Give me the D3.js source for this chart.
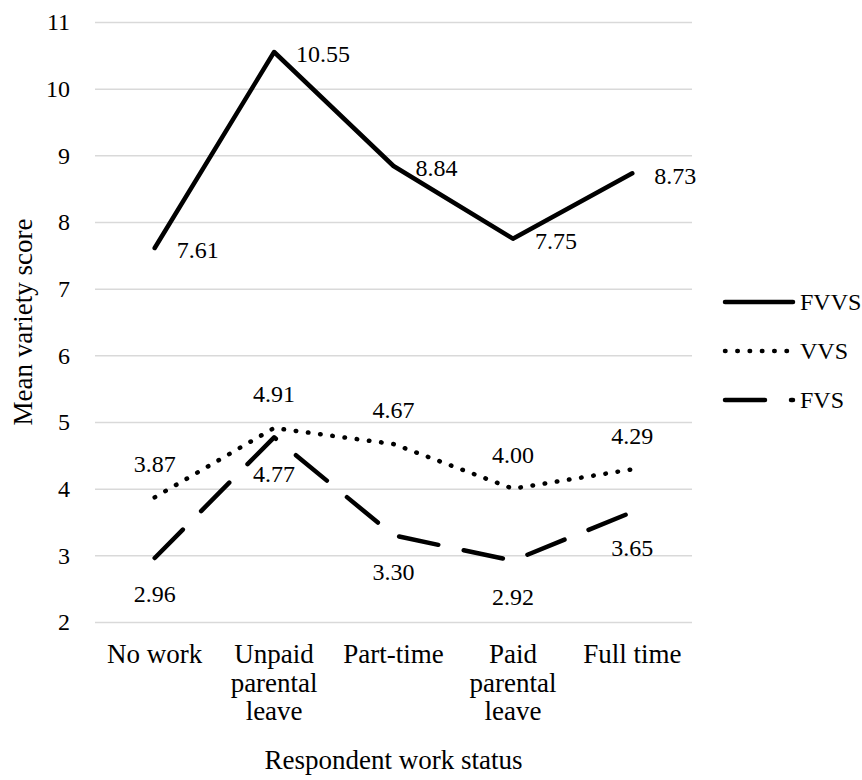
<html>
  <head>
    <style>
      body {
        margin:0;
        background:#fff;
        font-family:"Liberation Serif", "DejaVu Serif", serif;
      }
      .chart text {
        fill:#000;
        font-size:24px;
      }
      .chart text.word {
        font-size:27px;
      }
      .grid .domain {
        display:none;
      }
      .grid .tick line {
        stroke:#d9d9d9;
        stroke-width:1.5;
      }
      .xaxis .domain, .xaxis .tick line {
        display:none;
      }
      .series {
        fill:none;
        stroke:#000;
        stroke-width:4.5;
        stroke-linejoin:round;
        stroke-linecap:round;
      }
    </style>
  </head>
  <body>
    <div class="graph"></div>
    <script src="https://cdn.jsdelivr.net/npm/d3@7"></script>
    <script>
      var categories = ["No work", "Unpaid parental leave", "Part-time", "Paid parental leave", "Full time"];
      var tickLines = [["No work"], ["Unpaid", "parental", "leave"], ["Part-time"], ["Paid", "parental", "leave"], ["Full time"]];
      var seriesNames = ["FVVS", "VVS", "FVS"];
      var fvvs = [7.61, 10.55, 8.84, 7.75, 8.73];
      var vvs = [3.87, 4.91, 4.67, 4.00, 4.29];
      var fvs = [2.96, 4.77, 3.30, 2.92, 3.65];
      var yTicks = [2, 3, 4, 5, 6, 7, 8, 9, 10, 11];

      var width = 862;
      var height = 780;
      // note: "top" is taken by window.top, so prefix these
      var plotLeft = 95, plotRight = 692, plotTop = 22, plotBottom = 622;

      // dash style + label placement per series
      var styles = {
        FVVS:{dash:null, label:"right"},
        VVS:{dash:"0.5,11.8", label:"above"},
        FVS:{dash:"40,26", label:"below"}
      };
      var values = {FVVS:fvvs, VVS:vvs, FVS:fvs};

      var x = d3.scaleBand()
        .domain(categories)
        .range([plotLeft, plotRight]);
      var y = d3.scaleLinear()
        .domain([2, 11])
        .range([plotBottom, plotTop]);

      function cx(c) {
        return x(c) + x.bandwidth() / 2;
      }

      var svg = d3.select(".graph").append("svg")
        .attr("class", "chart")
        .attr("width", width)
        .attr("height", height);

      var grid = svg.append("g")
        .attr("class", "grid")
        .attr("transform", "translate(" + plotLeft + ",0)")
        .call(d3.axisLeft(y)
          .tickValues(yTicks)
          .tickSize(-(plotRight - plotLeft))
          .tickPadding(25)
          .tickFormat(d3.format("d")));
      grid.attr("font-family", null).attr("font-size", null);

      var xaxis = svg.append("g")
        .attr("class", "xaxis")
        .attr("transform", "translate(0," + plotBottom + ")")
        .call(d3.axisBottom(x).tickSize(0));
      xaxis.attr("font-family", null).attr("font-size", null);
      xaxis.selectAll(".tick text").each(function (d, i) {
        var t = d3.select(this).attr("class", "word").text(null).attr("y", 0).attr("dy", null);
        tickLines[i].forEach(function (s, j) {
          t.append("tspan")
            .attr("x", 0)
            .attr("y", 41 + j * 28.5)
            .text(s);
        });
      });

      var line = d3.line()
        .x(function (d, i) { return cx(categories[i]); })
        .y(function (d) { return y(d); });

      seriesNames.forEach(function (name) {
        var data = values[name];
        var st = styles[name];
        svg.append("path")
          .datum(data)
          .attr("class", "series")
          .attr("stroke-dasharray", st.dash)
          .attr("d", line);

        svg.append("g").selectAll("text")
          .data(data)
          .join("text")
          .attr("x", function (d, i) {
            return st.label == "right" ? cx(categories[i]) + 22 : cx(categories[i]);
          })
          .attr("y", function (d) {
            if (st.label == "above") return y(d) - 34;
            if (st.label == "below") return y(d) + 36;
            return y(d) + 2;
          })
          .attr("dy", "0.35em")
          .attr("text-anchor", st.label == "right" ? "start" : "middle")
          .text(function (d) { return d.toFixed(2); });
      });

      // legend
      var legend = svg.append("g").selectAll("g")
        .data(seriesNames)
        .join("g")
        .attr("transform", function (d, i) { return "translate(725," + (302 + i * 49) + ")"; });
      legend.append("path")
        .attr("class", "series")
        .attr("stroke-dasharray", function (d) { return styles[d].dash; })
        .attr("d", "M0,0H68");
      legend.append("text")
        .attr("x", 75)
        .attr("dy", "0.35em")
        .text(function (d) { return d; });

      svg.append("text")
        .attr("class", "word")
        .attr("transform", "translate(23," + (plotTop + plotBottom) / 2 + ") rotate(-90)")
        .attr("text-anchor", "middle")
        .attr("dy", "0.35em")
        .text("Mean variety score");

      svg.append("text")
        .attr("class", "word")
        .attr("x", (plotLeft + plotRight) / 2)
        .attr("y", 769)
        .attr("text-anchor", "middle")
        .text("Respondent work status");
    </script>
  </body>
</html>
